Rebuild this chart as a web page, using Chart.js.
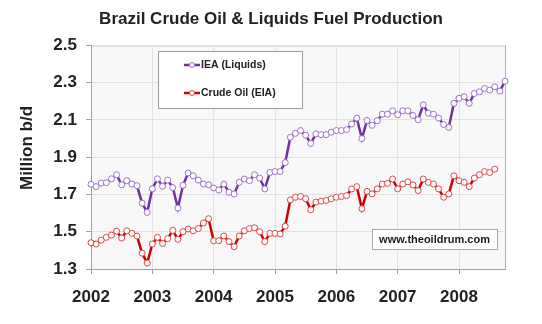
<!DOCTYPE html>
<html>
<head>
<meta charset="utf-8">
<script src="https://cdn.jsdelivr.net/npm/chart.js@4/dist/chart.umd.min.js"></script>
<style>
  html, body { margin: 0; padding: 0; background: #fff; }
  #wrap { width: 542px; height: 324px; }
</style>
</head>
<body>
<div id="wrap"><canvas id="prodChart" width="542" height="324"></canvas></div>
<script>
// monthly production, million b/d, starting Jan 2002
const years = ['2002', '2003', '2004', '2005', '2006', '2007', '2008'];

const ieaLiquids = [
  1.754, 1.742, 1.761, 1.763, 1.784, 1.806, 1.752, 1.774, 1.756, 1.747, 1.653, 1.604,
  1.731, 1.784, 1.744, 1.777, 1.737, 1.627, 1.749, 1.815, 1.800, 1.777, 1.756, 1.752,
  1.735, 1.724, 1.756, 1.712, 1.703, 1.765, 1.783, 1.774, 1.806, 1.788, 1.730, 1.818,
  1.823, 1.823, 1.871, 2.007, 2.028, 2.043, 2.018, 1.974, 2.025, 2.021, 2.021, 2.034,
  2.043, 2.043, 2.048, 2.078, 2.110, 2.000, 2.097, 2.071, 2.096, 2.131, 2.131, 2.149,
  2.128, 2.149, 2.149, 2.124, 2.101, 2.181, 2.136, 2.131, 2.110, 2.075, 2.060, 2.189,
  2.216, 2.225, 2.189, 2.242, 2.251, 2.269, 2.260, 2.278, 2.255, 2.308
];

const crudeEIA = [
  1.441, 1.434, 1.455, 1.470, 1.482, 1.503, 1.466, 1.505, 1.491, 1.477, 1.385, 1.332,
  1.434, 1.470, 1.437, 1.463, 1.507, 1.459, 1.500, 1.515, 1.505, 1.517, 1.547, 1.570,
  1.452, 1.452, 1.477, 1.447, 1.420, 1.477, 1.505, 1.517, 1.521, 1.500, 1.447, 1.491,
  1.491, 1.488, 1.530, 1.671, 1.685, 1.689, 1.677, 1.618, 1.659, 1.664, 1.668, 1.677,
  1.685, 1.689, 1.694, 1.730, 1.742, 1.624, 1.717, 1.703, 1.730, 1.756, 1.759, 1.783,
  1.730, 1.756, 1.768, 1.751, 1.721, 1.783, 1.765, 1.756, 1.730, 1.685, 1.703, 1.800,
  1.774, 1.765, 1.742, 1.788, 1.806, 1.823, 1.818, 1.836
];

const FONT = '"Liberation Sans", Arial, Helvetica, sans-serif';
const toPoints = arr => arr.map((v, i) => ({ x: i, y: v }));

// light grey plot background with a thin frame
const plotBackground = {
  id: 'plotBackground',
  beforeDraw(chart) {
    const { ctx, chartArea: a } = chart;
    ctx.save();
    ctx.fillStyle = '#f8f8f8';
    ctx.fillRect(a.left, a.top, a.right - a.left, a.bottom - a.top);
    ctx.strokeStyle = '#b4b4b4';
    ctx.lineWidth = 1;
    ctx.strokeRect(a.left + 0.5, a.top + 0.5, a.right - a.left, a.bottom - a.top);
    ctx.restore();
  }
};

// boxed legend inside the plot, the site tag and the y axis caption
const annotations = {
  id: 'annotations',
  afterDraw(chart) {
    const { ctx } = chart;
    ctx.save();

    ctx.fillStyle = '#fff';
    ctx.strokeStyle = '#9c9c9c';
    ctx.lineWidth = 1;
    ctx.fillRect(158, 51, 144, 57);
    ctx.strokeRect(158.5, 51.5, 144, 57);

    const rows = [65, 93];
    chart.data.datasets.forEach((ds, i) => {
      const y = rows[i];
      ctx.strokeStyle = ds.borderColor;
      ctx.lineWidth = 2.5;
      ctx.beginPath();
      ctx.moveTo(184, y);
      ctx.lineTo(200, y);
      ctx.stroke();
      ctx.beginPath();
      ctx.arc(192, y, 2.5, 0, Math.PI * 2);
      ctx.fillStyle = '#fff';
      ctx.fill();
      ctx.lineWidth = 1;
      ctx.strokeStyle = ds.pointBorderColor;
      ctx.stroke();
      ctx.fillStyle = '#222';
      ctx.font = 'bold 10.5px ' + FONT;
      ctx.textAlign = 'left';
      ctx.textBaseline = 'middle';
      ctx.fillText(ds.label, 201, y);
    });

    ctx.fillStyle = '#fff';
    ctx.strokeStyle = '#a8a8a8';
    ctx.fillRect(372, 229, 125, 20);
    ctx.strokeRect(372.5, 229.5, 125, 20);
    ctx.fillStyle = '#1a1a1a';
    ctx.font = 'bold 11px ' + FONT;
    ctx.textAlign = 'center';
    ctx.textBaseline = 'middle';
    ctx.fillText('www.theoildrum.com', 434.5, 239.5);

    ctx.translate(27, 148);
    ctx.rotate(-Math.PI / 2);
    ctx.font = 'bold 17px ' + FONT;
    ctx.fillStyle = '#222';
    ctx.fillText('Million b/d', 0, 0);
    ctx.restore();
  }
};

new Chart(document.getElementById('prodChart'), {
  type: 'line',
  data: {
    datasets: [
      {
        label: 'IEA (Liquids)',
        data: toPoints(ieaLiquids),
        borderColor: '#7030a0',
        borderWidth: 2.5,
        pointRadius: 3,
        pointBorderWidth: 1,
        pointBorderColor: '#9c74cc',
        pointBackgroundColor: '#fff',
        tension: 0,
        clip: false
      },
      {
        label: 'Crude Oil (EIA)',
        data: toPoints(crudeEIA),
        borderColor: '#cc0000',
        borderWidth: 2.5,
        pointRadius: 3,
        pointBorderWidth: 1,
        pointBorderColor: '#e04848',
        pointBackgroundColor: '#fff',
        tension: 0,
        clip: false
      }
    ]
  },
  options: {
    responsive: false,
    animation: false,
    devicePixelRatio: 1,
    // equal side padding keeps the title centred on the canvas
    layout: { padding: { left: 37, right: 37, top: 0, bottom: 0 } },
    plugins: {
      legend: { display: false },
      tooltip: { enabled: false },
      title: {
        display: true,
        text: 'Brazil Crude Oil & Liquids Fuel Production',
        color: '#222',
        font: { family: FONT, size: 17, weight: 'bold' },
        padding: { top: 9, bottom: 16 }
      }
    },
    scales: {
      x: {
        type: 'linear',
        min: 0,
        max: 81,
        afterFit: s => { s.height = 55; },
        ticks: {
          stepSize: 12,
          includeBounds: false,
          autoSkip: false,
          maxRotation: 0,
          padding: 13,
          color: '#222',
          font: { family: FONT, size: 17, weight: 'bold' },
          callback: v => years[v / 12]
        },
        grid: { color: '#e2e2e2', tickColor: '#a0a0a0', tickLength: 5 },
        border: { color: '#a0a0a0' }
      },
      y: {
        min: 1.3,
        max: 2.5,
        afterFit: s => { s.width = 54; },
        ticks: {
          stepSize: 0.2,
          padding: 9,
          color: '#222',
          font: { family: FONT, size: 17, weight: 'bold' },
          callback: v => v.toFixed(1)
        },
        grid: { color: '#e2e2e2', tickColor: '#a0a0a0', tickLength: 5 },
        border: { color: '#a0a0a0' }
      }
    }
  },
  plugins: [plotBackground, annotations]
});
</script>
</body>
</html>
